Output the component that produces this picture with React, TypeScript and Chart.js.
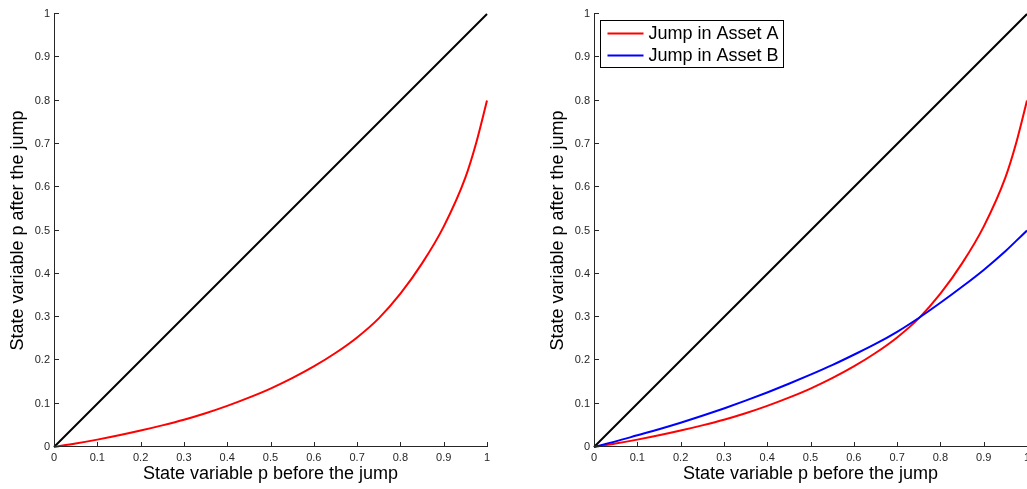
import React, { useEffect, useRef } from 'react';
import { Chart, registerables } from 'chart.js';

Chart.register(...registerables);

// ---- data ----
const pBefore = [0, 0.05, 0.1, 0.15, 0.2, 0.25, 0.3, 0.35, 0.4, 0.45, 0.5, 0.55, 0.6, 0.65, 0.7, 0.75, 0.8, 0.85, 0.9, 0.95, 0.975, 1];
const jumpA = [0, 0.008, 0.017, 0.027, 0.038, 0.05, 0.063, 0.078, 0.095, 0.114, 0.135, 0.159, 0.186, 0.217, 0.253, 0.297, 0.354, 0.424, 0.509, 0.622, 0.702, 0.8];
const jumpB = [0, 0.013, 0.027, 0.041, 0.056, 0.072, 0.089, 0.107, 0.126, 0.146, 0.167, 0.189, 0.213, 0.238, 0.266, 0.298, 0.333, 0.37, 0.409, 0.452, 0.476, 0.5];
const diagX = [0, 1];
const diagY = [0, 1];
const xTickLabels = ['0', '0.1', '0.2', '0.3', '0.4', '0.5', '0.6', '0.7', '0.8', '0.9', '1'];
const yTickLabels = ['0', '0.1', '0.2', '0.3', '0.4', '0.5', '0.6', '0.7', '0.8', '0.9', '1'];
const xTitle = 'State variable p before the jump';
const yTitle = 'State variable p after the jump';
const labelA = 'Jump in Asset A';
const labelB = 'Jump in Asset B';

const FONT = '"Liberation Sans", Arial, Helvetica, sans-serif';
const AXIS_COLOR = '#262626';

const toPts = (xs: number[], ys: number[]) => xs.map((x, i) => ({ x, y: ys[i] }));

const matlabAxes = {
  id: 'matlabAxes',
  afterDatasetsDraw(chart: any) {
    const { ctx, chartArea, scales } = chart;
    const { left, right, top, bottom } = chartArea;
    const x = scales.x;
    const y = scales.y;
    ctx.save();
    ctx.strokeStyle = AXIS_COLOR;
    ctx.lineWidth = 1;
    ctx.beginPath();
    x.ticks.forEach((t: any) => {
      const px = Math.round(x.getPixelForValue(t.value)) + 0.5;
      ctx.moveTo(px, bottom);
      ctx.lineTo(px, bottom - 5);
    });
    y.ticks.forEach((t: any) => {
      const py = Math.round(y.getPixelForValue(t.value)) - 0.5;
      ctx.moveTo(left, py);
      ctx.lineTo(left + 5, py);
    });
    ctx.moveTo(left + 0.5, top);
    ctx.lineTo(left + 0.5, bottom - 0.5);
    ctx.lineTo(right, bottom - 0.5);
    ctx.stroke();
    ctx.restore();
  },
};

const boxLegend = {
  id: 'boxLegend',
  afterDraw(chart: any) {
    const opts = chart.options.plugins.boxLegend;
    if (!opts || !opts.display) return;
    const { ctx, chartArea } = chart;
    const items = chart.data.datasets.filter((d: any) => d.label);
    const fontSize = 18;
    ctx.save();
    ctx.font = `${fontSize}px ${FONT}`;
    const lineLen = 36;
    const gap = 5;
    const padL = 7;
    const padR = 5;
    const rowH = 22;
    const maxText = Math.max(...items.map((d: any) => ctx.measureText(d.label).width));
    const w = Math.round(padL + lineLen + gap + maxText + padR);
    const h = items.length * rowH + 3;
    const bx = Math.round(chartArea.left + 6) + 0.5;
    const by = Math.round(chartArea.top + 6) + 0.5;
    ctx.fillStyle = '#ffffff';
    ctx.fillRect(bx, by, w, h);
    ctx.strokeStyle = '#000000';
    ctx.lineWidth = 1;
    ctx.strokeRect(bx, by, w, h);
    items.forEach((d: any, i: number) => {
      const cy = by + 13 + i * rowH;
      ctx.strokeStyle = d.borderColor;
      ctx.lineWidth = 2;
      ctx.beginPath();
      ctx.moveTo(bx + padL, cy);
      ctx.lineTo(bx + padL + lineLen, cy);
      ctx.stroke();
      ctx.fillStyle = '#000000';
      ctx.textBaseline = 'middle';
      ctx.textAlign = 'left';
      ctx.fillText(d.label, bx + padL + lineLen + gap, cy + 1);
    });
    ctx.restore();
  },
};

function makeConfig(withB: boolean, padRight: number): any {
  const datasets: any[] = [
    {
      data: toPts(diagX, diagY),
      borderColor: '#000000',
      borderWidth: 2,
      order: 3,
    },
    {
      label: withB ? labelA : undefined,
      data: toPts(pBefore, jumpA),
      borderColor: '#ff0000',
      borderWidth: 2,
      cubicInterpolationMode: 'monotone',
      order: 2,
    },
  ];
  if (withB) {
    datasets.push({
      label: labelB,
      data: toPts(pBefore, jumpB),
      borderColor: '#0000ff',
      borderWidth: 2,
      cubicInterpolationMode: 'monotone',
      order: 1,
    });
  }
  return {
    type: 'line',
    data: { datasets },
    plugins: [matlabAxes, boxLegend],
    options: {
      animation: false,
      responsive: false,
      devicePixelRatio: 1,
      layout: { padding: { left: 0, right: padRight, top: 14, bottom: 0 } },
      elements: { point: { radius: 0 }, line: { fill: false } },
      datasets: { line: { clip: 3 } },
      plugins: {
        legend: { display: false },
        tooltip: { enabled: false },
        boxLegend: { display: withB },
      },
      scales: {
        x: {
          type: 'linear',
          min: 0,
          max: 1,
          grid: { display: false, drawTicks: false },
          border: { display: false },
          ticks: {
            stepSize: 0.1,
            autoSkip: false,
            maxRotation: 0,
            padding: 4,
            color: AXIS_COLOR,
            font: { family: FONT, size: 11 },
            callback: (_v: any, i: number) => xTickLabels[i],
          },
          title: {
            display: true,
            text: xTitle,
            color: '#000000',
            font: { family: FONT, size: 18 },
            padding: { top: 0, bottom: 4 },
          },
          afterFit: (s: any) => {
            s.height = 42;
            s.paddingLeft = 0;
            s.paddingRight = 0;
          },
        },
        y: {
          type: 'linear',
          min: 0,
          max: 1,
          grid: { display: false, drawTicks: false },
          border: { display: false },
          ticks: {
            stepSize: 0.1,
            autoSkip: false,
            padding: 4,
            color: AXIS_COLOR,
            font: { family: FONT, size: 11 },
            callback: (_v: any, i: number) => yTickLabels[i],
          },
          title: {
            display: true,
            text: yTitle,
            color: '#000000',
            font: { family: FONT, size: 18 },
            padding: { top: 7, bottom: 0 },
          },
          afterFit: (s: any) => {
            s.width = 54;
            s.paddingTop = 0;
            s.paddingBottom = 0;
          },
        },
      },
    },
  };
}

function Panel({ left, width, withB, padRight }: { left: number; width: number; withB: boolean; padRight: number }) {
  const ref = useRef<HTMLCanvasElement | null>(null);
  useEffect(() => {
    if (!ref.current) return;
    const chart = new Chart(ref.current, makeConfig(withB, padRight));
    return () => chart.destroy();
  }, [withB, padRight]);
  return (
    <canvas
      ref={ref}
      width={width}
      height={489}
      style={{ position: 'absolute', left, top: 0, width, height: 489 }}
    />
  );
}

export default function App() {
  return (
    <div style={{ position: 'fixed', left: 0, top: 0, width: 1027, height: 489, background: '#ffffff', overflow: 'hidden' }}>
      <Panel left={0} width={510} withB={false} padRight={23} />
      <Panel left={540} width={487} withB={true} padRight={0} />
    </div>
  );
}
